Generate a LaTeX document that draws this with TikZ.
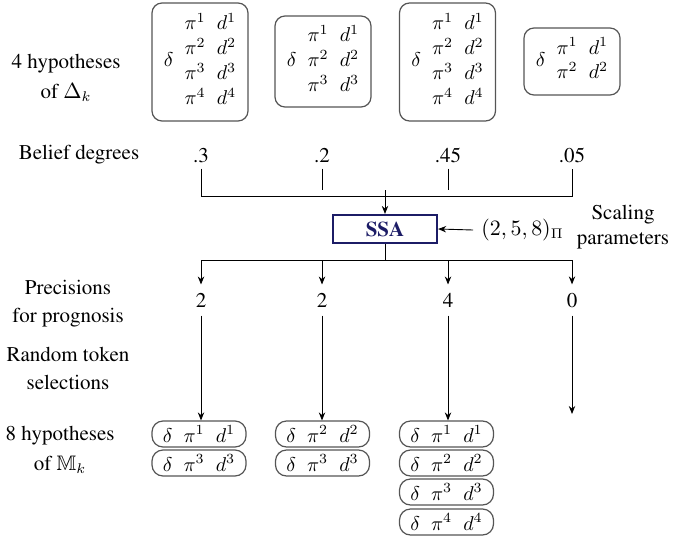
\documentclass[tikz,border=0pt]{standalone}
\usepackage{amsmath,amssymb}
\usepackage[T1]{fontenc}
\usepackage{times}
\usetikzlibrary{arrows.meta}
\definecolor{navy}{HTML}{1C1C66}
\definecolor{boxgray}{HTML}{555555}
\begin{document}
\begin{tikzpicture}[x=0.5pt,y=-0.5pt,
  every node/.style={font=\fontsize{10.5}{12.5}\selectfont},
  lbl/.style={align=center, inner sep=0pt},
  topbox/.style={draw=boxgray, line width=0.6pt, rounded corners=5pt, inner sep=0pt, minimum width=48pt, font=\fontsize{10}{12}\selectfont},
  hypbox/.style={draw=boxgray, line width=0.6pt, rounded corners=5.5pt, inner sep=0pt, minimum width=47pt, minimum height=13pt, font=\fontsize{10}{12}\selectfont},
  val/.style={inner sep=0pt},
  conn/.style={line width=0.45pt, black},
  arr/.style={conn, -{Stealth[length=4pt,width=3.2pt]}},
  ssabox/.style={draw=navy, line width=1.1pt, text=navy, font=\fontsize{10.5}{12}\selectfont\bfseries, minimum width=52pt, minimum height=14pt, inner sep=0pt}
]
\useasboundingbox (0,0) rectangle (694,545);

% left labels
\node[lbl] (l1) at (66,78) {4 hypotheses\\[2.5pt] of $\Delta_k$};
\node[lbl] (l2) at (79,155) {Belief degrees};
\node[lbl] (l3) at (68,304) {Precisions\\[1.5pt] for prognosis};
\node[lbl] (l4) at (68,368) {Random token\\[1.5pt] selections};
\node[lbl] (l5) at (60,450) {8 hypotheses\\[2.5pt] of $\mathbb{M}_k$};

% top hypothesis boxes
\node[topbox, minimum height=59pt] (t1) at (200,62)
  {$\delta\;\;\renewcommand{\arraystretch}{1.04}\begin{array}{@{}c@{}}\pi^1\;\;d^1\\ \pi^2\;\;d^2\\ \pi^3\;\;d^3\\ \pi^4\;\;d^4\end{array}$};
\node[topbox, minimum height=45.5pt] (t2) at (323,61.5)
  {$\delta\;\;\renewcommand{\arraystretch}{1.04}\begin{array}{@{}c@{}}\pi^1\;\;d^1\\ \pi^2\;\;d^2\\ \pi^3\;\;d^3\end{array}$};
\node[topbox, minimum height=59pt] (t3) at (447.5,62)
  {$\delta\;\;\renewcommand{\arraystretch}{1.04}\begin{array}{@{}c@{}}\pi^1\;\;d^1\\ \pi^2\;\;d^2\\ \pi^3\;\;d^3\\ \pi^4\;\;d^4\end{array}$};
\node[topbox, minimum height=33.5pt] (t4) at (572,61.5)
  {$\delta\;\;\renewcommand{\arraystretch}{1.04}\begin{array}{@{}c@{}}\pi^1\;\;d^1\\ \pi^2\;\;d^2\end{array}$};

% belief degrees
\node[val] (b1) at (201,155) {.3};
\node[val] (b2) at (322,155) {.2};
\node[val] (b3) at (448,155) {.45};
\node[val] (b4) at (572,155) {.05};

\coordinate (j1) at (385,190);
\node[ssabox] (ssa) at (385,229) {SSA};
\node[inner sep=0pt, anchor=west] (par) at (481,230) {$(2,5,8)_{\Pi}$};
\node[lbl] (scl) at (623,227) {Scaling\\[0pt] parameters};

\draw[conn] ([yshift=-3pt]b1.south) |- ([yshift=-3pt]b4.south |- j1) -- ([yshift=-3pt]b4.south);
\draw[conn] ([yshift=-3pt]b2.south) -- (b2.south |- j1);
\draw[conn] ([yshift=-3pt]b3.south) -- (b3.south |- j1);
\draw[arr] (j1) -- (ssa.north);
\draw[arr] ([xshift=-4pt]par.west) -- (ssa.east);

% precisions
\node[val] (p1) at (201,300) {2};
\node[val] (p2) at (322,300) {2};
\node[val] (p3) at (448,300) {4};
\node[val] (p4) at (572,300) {0};

\coordinate (j2) at (385,260);
\draw[conn] (ssa.south) -- (j2);
\draw[conn] (p1.south |- j2) -- (p4.south |- j2);
\foreach \i in {1,2,3,4}{
  \draw[arr] (p\i.south |- j2) -- ([yshift=4pt]p\i.north);
}

% bottom hypothesis boxes
\node[hypbox] (g1a) at (199,434) {$\delta\;\;\pi^1\;\;d^1$};
\node[hypbox] (g1b) at (199,463) {$\delta\;\;\pi^3\;\;d^3$};
\node[hypbox] (g2a) at (322.5,434) {$\delta\;\;\pi^2\;\;d^2$};
\node[hypbox] (g2b) at (322.5,463) {$\delta\;\;\pi^3\;\;d^3$};
\node[hypbox] (g3a) at (446.5,434) {$\delta\;\;\pi^1\;\;d^1$};
\node[hypbox] (g3b) at (446.5,463) {$\delta\;\;\pi^2\;\;d^2$};
\node[hypbox] (g3c) at (446.5,492) {$\delta\;\;\pi^3\;\;d^3$};
\node[hypbox] (g3d) at (446.5,522) {$\delta\;\;\pi^4\;\;d^4$};

\coordinate (e4) at (572,414);
\draw[arr] ([yshift=-4pt]p1.south) -- (p1.south |- g1a.north);
\draw[arr] ([yshift=-4pt]p2.south) -- (p2.south |- g2a.north);
\draw[arr] ([yshift=-4pt]p3.south) -- (p3.south |- g3a.north);
\draw[arr] ([yshift=-4pt]p4.south) -- (e4);
\end{tikzpicture}
\end{document}
